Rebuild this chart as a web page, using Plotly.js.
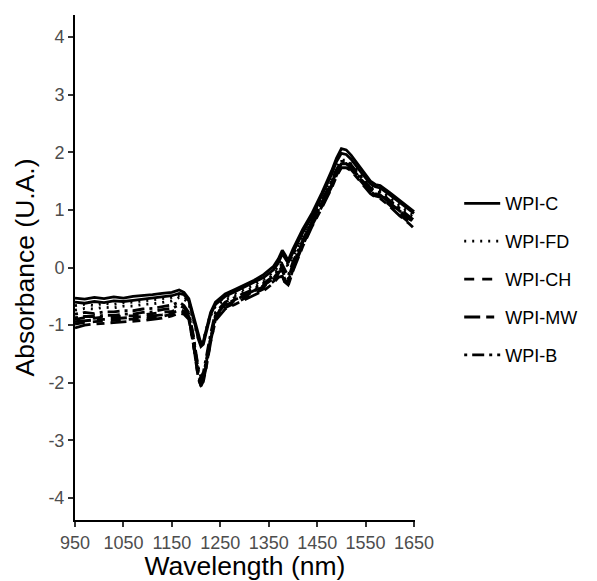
<!DOCTYPE html>
<html>
<head>
<meta charset="utf-8">
<script src="https://cdn.plot.ly/plotly-3.0.1.min.js"></script>
<style>html,body{margin:0;padding:0;background:#fff;}#chart{width:597px;height:581px;}</style>
</head>
<body>
<div id="chart"></div>
<script>
// Wavelength grid (nm)
const wavelength = [950, 970, 990, 1010, 1030, 1050, 1070, 1090, 1110, 1130, 1150,
  1165, 1175, 1185, 1195, 1200, 1205, 1210, 1215, 1220,
  1230, 1240, 1260, 1280, 1300, 1320, 1340, 1360, 1370,
  1378, 1384, 1390, 1400, 1420, 1440, 1460, 1480, 1490,
  1500, 1510, 1520, 1540, 1560, 1570, 1580, 1600, 1620, 1640, 1650];

// Group names
const groups = ["WPI-C", "WPI-FD", "WPI-CH", "WPI-MW", "WPI-B"];

// Absorbance spectra (two replicates per group)
const wpiC_1 = [-0.53,-0.55,-0.52,-0.54,-0.51,-0.53,-0.50,-0.49,-0.47,-0.45,-0.43,
  -0.39,-0.43,-0.54,-0.85,-1.02,-1.20,-1.32,-1.28,-1.12,
  -0.78,-0.60,-0.46,-0.38,-0.30,-0.22,-0.12,0.02,0.15,
  0.30,0.22,0.12,0.32,0.66,0.95,1.30,1.68,1.90,
  2.06,2.04,1.95,1.72,1.50,1.44,1.42,1.30,1.17,1.04,0.97];
const wpiC_2 = [-0.60,-0.62,-0.59,-0.61,-0.58,-0.59,-0.57,-0.55,-0.54,-0.51,-0.49,
  -0.45,-0.47,-0.58,-0.88,-1.06,-1.25,-1.37,-1.33,-1.16,
  -0.82,-0.64,-0.50,-0.42,-0.34,-0.26,-0.17,-0.04,0.08,
  0.24,0.17,0.08,0.26,0.60,0.90,1.25,1.62,1.84,
  1.98,1.96,1.88,1.66,1.45,1.40,1.38,1.26,1.13,1.00,0.94];
const wpiFD_1 = [-0.66,-0.64,-0.66,-0.62,-0.64,-0.61,-0.60,-0.58,-0.57,-0.55,-0.52,
  -0.48,-0.50,-0.60,-0.90,-1.08,-1.22,-1.30,-1.27,-1.10,
  -0.80,-0.63,-0.52,-0.45,-0.38,-0.30,-0.20,-0.08,0.02,
  0.12,0.10,0.06,0.22,0.56,0.90,1.22,1.55,1.74,
  1.86,1.86,1.80,1.60,1.42,1.38,1.36,1.22,1.08,0.96,0.90];
const wpiFD_2 = [-0.74,-0.71,-0.72,-0.69,-0.70,-0.67,-0.67,-0.64,-0.63,-0.60,-0.58,
  -0.52,-0.54,-0.63,-0.93,-1.10,-1.25,-1.34,-1.30,-1.13,
  -0.84,-0.67,-0.56,-0.49,-0.42,-0.34,-0.24,-0.12,-0.02,
  0.08,0.06,0.02,0.18,0.52,0.86,1.18,1.50,1.70,
  1.82,1.82,1.76,1.56,1.38,1.34,1.32,1.18,1.04,0.92,0.86];
const wpiCH_1 = [-0.90,-0.87,-0.88,-0.86,-0.86,-0.84,-0.84,-0.82,-0.81,-0.78,-0.76,
  -0.72,-0.76,-0.85,-1.32,-1.62,-1.88,-2.02,-1.92,-1.72,
  -1.25,-0.86,-0.66,-0.58,-0.50,-0.42,-0.33,-0.20,-0.10,
  -0.08,-0.22,-0.27,0.00,0.42,0.78,1.10,1.44,1.64,
  1.78,1.78,1.72,1.52,1.32,1.26,1.24,1.10,0.96,0.82,0.76];
const wpiCH_2 = [-0.98,-0.95,-0.94,-0.93,-0.92,-0.91,-0.90,-0.88,-0.87,-0.85,-0.81,
  -0.76,-0.78,-0.88,-1.35,-1.66,-1.92,-2.06,-1.96,-1.76,
  -1.28,-0.90,-0.70,-0.62,-0.54,-0.46,-0.37,-0.24,-0.14,
  -0.12,-0.26,-0.30,-0.04,0.38,0.74,1.06,1.40,1.60,
  1.75,1.75,1.70,1.50,1.30,1.24,1.22,1.08,0.92,0.78,0.72];
const wpiMW_1 = [-0.94,-0.92,-0.91,-0.90,-0.89,-0.88,-0.87,-0.86,-0.84,-0.82,-0.79,
  -0.74,-0.77,-0.86,-1.30,-1.60,-1.86,-2.00,-1.90,-1.70,
  -1.22,-0.84,-0.64,-0.56,-0.48,-0.40,-0.30,-0.18,-0.08,
  -0.05,-0.18,-0.24,0.02,0.44,0.80,1.12,1.46,1.66,
  1.80,1.80,1.74,1.54,1.34,1.28,1.26,1.12,0.98,0.84,0.78];
const wpiMW_2 = [-1.05,-1.00,-0.98,-0.97,-0.96,-0.95,-0.94,-0.92,-0.90,-0.88,-0.84,
  -0.79,-0.81,-0.90,-1.36,-1.68,-1.95,-2.04,-1.98,-1.78,
  -1.30,-0.92,-0.72,-0.64,-0.56,-0.48,-0.40,-0.27,-0.17,
  -0.15,-0.28,-0.32,-0.06,0.36,0.72,1.04,1.38,1.58,
  1.73,1.73,1.68,1.48,1.28,1.22,1.20,1.06,0.90,0.76,0.68];
const wpiB_1 = [-0.81,-0.78,-0.80,-0.77,-0.77,-0.75,-0.75,-0.72,-0.71,-0.68,-0.65,
  -0.60,-0.66,-0.78,-1.20,-1.50,-1.75,-1.90,-1.82,-1.60,
  -1.15,-0.78,-0.60,-0.52,-0.45,-0.37,-0.27,-0.15,-0.05,
  0.05,-0.05,-0.15,0.10,0.48,0.84,1.16,1.50,1.70,
  1.84,1.84,1.78,1.58,1.38,1.32,1.30,1.16,1.02,0.88,0.82];
const wpiB_2 = [-0.87,-0.85,-0.85,-0.83,-0.83,-0.81,-0.81,-0.78,-0.77,-0.73,-0.71,
  -0.65,-0.70,-0.80,-1.25,-1.55,-1.80,-1.95,-1.88,-1.65,
  -1.20,-0.82,-0.64,-0.56,-0.49,-0.41,-0.31,-0.19,-0.08,
  0.02,-0.10,-0.20,0.06,0.44,0.80,1.12,1.46,1.66,
  1.80,1.80,1.74,1.54,1.34,1.28,1.26,1.12,0.98,0.84,0.78];

const xTicks = [950, 1050, 1150, 1250, 1350, 1450, 1550, 1650];
const yTicks = [-4, -3, -2, -1, 0, 1, 2, 3, 4];

const groupSeries = [
  [wpiC_1, wpiC_2],
  [wpiFD_1, wpiFD_2],
  [wpiCH_1, wpiCH_2],
  [wpiMW_1, wpiMW_2],
  [wpiB_1, wpiB_2]
];
const dashes = ["solid", "2px,6px", "10px,8px", "16px,6px,8px,6px", "3px,5px,12px,5px"];

const traces = [];
groups.forEach((g, gi) => {
  groupSeries[gi].forEach((ys, ri) => {
    traces.push({
      type: "scatter", mode: "lines",
      x: wavelength, y: ys,
      name: g, legendgroup: g, showlegend: ri === 0,
      line: {color: "#000000", width: 2.8, dash: dashes[gi]},
      hoverinfo: "skip"
    });
  });
});

const tickFont = {family: "Liberation Sans, Arial, sans-serif", size: 18, color: "#4d4d4d"};
const titleFont = {family: "Liberation Sans, Arial, sans-serif", size: 26.5, color: "#000000"};

const layout = {
  width: 597, height: 581,
  margin: {l: 75, r: 182, t: 15, b: 61},
  paper_bgcolor: "#ffffff", plot_bgcolor: "#ffffff",
  showlegend: true,
  legend: {
    x: 1.13, xanchor: "left", y: 0.477, yanchor: "middle",
    font: {family: "Liberation Sans, Arial, sans-serif", size: 18, color: "#000000"},
    tracegroupgap: 11.5, traceorder: "grouped", itemwidth: 36,
    bgcolor: "rgba(0,0,0,0)"
  },
  xaxis: {
    range: [950, 1652], tickvals: xTicks, ticktext: xTicks.map(String),
    showgrid: false, zeroline: false,
    showline: true, linecolor: "#000000", linewidth: 2,
    ticks: "outside", ticklen: 5, tickwidth: 2, tickcolor: "#333333",
    tickfont: tickFont,
    title: {text: "Wavelength (nm)", font: titleFont, standoff: 2}
  },
  yaxis: {
    range: [-4.38, 4.38], tickvals: yTicks, ticktext: yTicks.map(String),
    showgrid: false, zeroline: false,
    showline: true, linecolor: "#000000", linewidth: 2,
    ticks: "outside", ticklen: 5, tickwidth: 2, tickcolor: "#333333",
    tickfont: tickFont,
    title: {text: "Absorbance (U.A.)", font: titleFont, standoff: 6}
  }
};

Plotly.newPlot("chart", traces, layout, {displayModeBar: false, staticPlot: true});
</script>
</body>
</html>
